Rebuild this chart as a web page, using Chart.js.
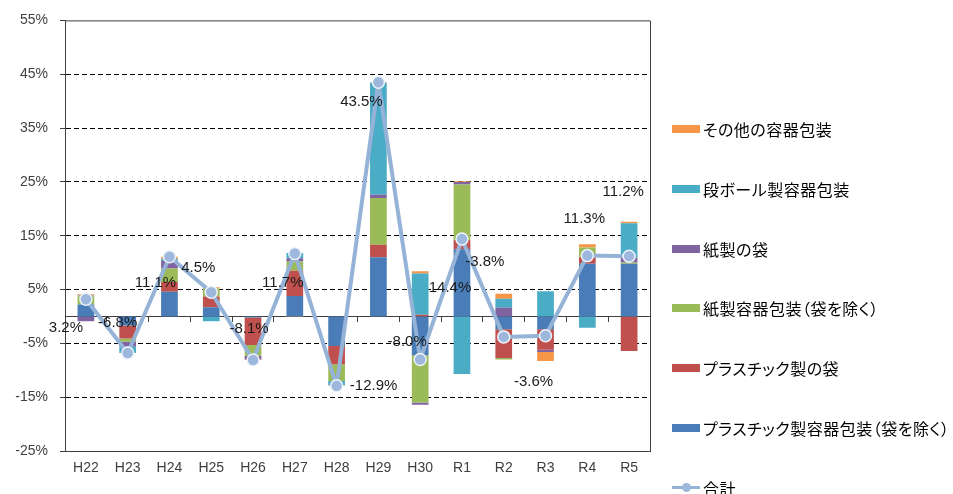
<!DOCTYPE html>
<html>
<head>
<meta charset="utf-8">
<script src="https://cdn.jsdelivr.net/npm/chart.js@4/dist/chart.umd.min.js"></script>
<style>
  body { margin: 0; background: #fff; }
  #wrap { position: relative; width: 953px; height: 494px; }
  #legend { position: absolute; left: 672px; top: 119px; font-family: "Noto Sans CJK JP", sans-serif; font-size: 16px; color: #000; font-feature-settings: "palt"; letter-spacing: 0.5px; }
  .item { display: flex; align-items: center; height: 20px; margin-bottom: 39.8px; white-space: nowrap; }
  .box { display: inline-block; width: 28px; height: 8px; margin-right: 3px; }
  .mk { position: relative; display: inline-block; width: 28px; height: 12px; margin-right: 3px; }
  .mk i { position: absolute; left: 0; top: 4.5px; width: 28px; height: 3px; }
  .mk b { position: absolute; left: 9.5px; top: 1.5px; width: 9px; height: 9px; border-radius: 50%; }
</style>
</head>
<body>
<div id="wrap">
  <canvas id="chart" width="953" height="494"></canvas>
  <div id="legend"></div>
</div>
<script>
// 前年度比（%）
const years = ['H22', 'H23', 'H24', 'H25', 'H26', 'H27', 'H28', 'H29', 'H30', 'R1', 'R2', 'R3', 'R4', 'R5'];
const plasticContainers = [2.2, -1.7, 4.6, 1.7, -0.2, 3.8, -5.5, 11.0, -7.2, 12.5, -2.4, -2.4, 9.8, 9.8];
const plasticBags = [0, -2.4, 1.8, 2.0, -5.1, 4.7, -3.4, 2.3, 0.3, 1.7, -5.3, -3.8, 1.2, -6.4];
const paperContainers = [1.5, -0.6, 2.5, 1.5, -2.0, 1.7, -3.1, 8.7, -8.8, 10.3, -0.3, 0, 1.8, 0.2];
const paperBags = [-0.9, -0.9, 1.5, 0, -0.7, 0.6, 0, 0.6, -0.4, 0.5, 1.6, -0.4, 0, 0.9];
const cardboard = [0.2, -1.2, 0.3, -0.9, 0, 1.0, -0.8, 20.8, 7.7, -10.7, 1.7, 4.7, -2.1, 6.4];
const others = [0.2, 0, 0.4, 0.2, -0.1, -0.1, -0.1, 0.1, 0.4, 0.1, 0.9, -1.7, 0.6, 0.3];
const totals = [3.2, -6.8, 11.1, 4.5, -8.1, 11.7, -12.9, 43.5, -8.0, 14.4, -3.8, -3.6, 11.3, 11.2];
const yTicks = [-25, -15, -5, 5, 15, 25, 35, 45, 55];

// where Excel left each total label, relative to its point
const labelOffsets = [[-20, 29], [-10, -30], [-14, 26], [-13, -24], [-4, -31], [-12, 29], [37, 0],
  [-17, 20], [-13, -18], [-12, 49], [-19, -75], [-12, 46], [-3, -37], [-6, -64]];

const axisColor = '#404040';
const tickFont = { family: 'Liberation Sans, Arial, sans-serif', size: 14 };

const frame = {
  id: 'frame',
  beforeDatasetsDraw(chart) {
    const { ctx, chartArea: a } = chart;
    ctx.save();
    ctx.strokeStyle = axisColor;
    ctx.lineWidth = 1;
    ctx.beginPath();
    ctx.moveTo(a.left, a.top + 0.5);
    ctx.lineTo(a.right + 0.5, a.top + 0.5);
    ctx.lineTo(a.right + 0.5, a.bottom);
    ctx.stroke();
    ctx.restore();
  }
};

const totalLabels = {
  id: 'totalLabels',
  afterDatasetsDraw(chart) {
    const { ctx } = chart;
    const meta = chart.getDatasetMeta(6);
    ctx.save();
    ctx.font = '15px "Liberation Sans", Arial, sans-serif';
    ctx.fillStyle = '#1a1a1a';
    ctx.textAlign = 'center';
    ctx.textBaseline = 'middle';
    meta.data.forEach((pt, i) => {
      const [dx, dy] = labelOffsets[i];
      ctx.fillText(totals[i].toFixed(1) + '%', pt.x + dx, pt.y + dy);
    });
    ctx.restore();
  }
};

const bar = (label, data, color) => ({ label, data, backgroundColor: color, borderWidth: 0, order: 1 });

const chart = new Chart(document.getElementById('chart'), {
  type: 'bar',
  data: {
    labels: years,
    datasets: [
      bar('プラスチック製容器包装（袋を除く）', plasticContainers, '#4A7DB8'),
      bar('プラスチック製の袋', plasticBags, '#C0504D'),
      bar('紙製容器包装（袋を除く）', paperContainers, '#9BBB59'),
      bar('紙製の袋', paperBags, '#8064A2'),
      bar('段ボール製容器包装', cardboard, '#4BACC6'),
      bar('その他の容器包装', others, '#F79646'),
      {
        type: 'line',
        label: '合計',
        data: totals,
        stack: 'total',
        order: 0,
        borderColor: '#95B3D7',
        borderWidth: 4,
        borderJoinStyle: 'round',
        borderCapStyle: 'round',
        tension: 0,
        fill: false,
        pointRadius: 6,
        pointBackgroundColor: '#9DB8DC',
        pointBorderColor: '#EEF3FA',
        pointBorderWidth: 1.5
      }
    ]
  },
  options: {
    responsive: false,
    animation: false,
    layout: { padding: { top: 17, right: 303, bottom: 0, left: 0 } },
    datasets: { bar: { barPercentage: 0.4, categoryPercentage: 1 } },
    plugins: { legend: { display: false }, tooltip: { enabled: false } },
    scales: {
      x: {
        stacked: true,
        grid: { display: false, drawTicks: false },
        border: { color: axisColor },
        ticks: { font: tickFont, color: axisColor, padding: 9 },
        afterFit: s => { s.height = 43; }
      },
      xz: {
        type: 'category',
        position: { y: 0 },
        grid: { drawOnChartArea: false, tickLength: 5, color: axisColor, offset: true },
        border: { color: axisColor },
        ticks: { display: false },
        afterFit: s => { s.height = 0; }
      },
      y: {
        stacked: true,
        min: -25,
        max: 55,
        afterBuildTicks: s => { s.ticks = yTicks.map(v => ({ value: v })); },
        grid: {
          color: c => (c.tick && (c.tick.value === 55 || c.tick.value === -25)) ? 'rgba(0,0,0,0)' : '#000',
          tickColor: axisColor,
          tickLength: 5
        },
        border: { color: axisColor, dash: [5, 3] },
        ticks: { font: tickFont, color: axisColor, padding: 12, callback: v => v + '%' },
        afterFit: s => { s.width = 65; }
      }
    }
  },
  plugins: [frame, totalLabels]
});

// 凡例（Excelと同じく積み上げの上から順、合計は最後）
const legendOrder = [5, 4, 3, 2, 1, 0, 6];
const legendEl = document.getElementById('legend');
legendOrder.forEach(i => {
  const ds = chart.data.datasets[i];
  const item = document.createElement('div');
  item.className = 'item';
  if (ds.type === 'line') {
    item.innerHTML = '<span class="mk"><i style="background:' + ds.borderColor + '"></i><b style="background:' + ds.pointBackgroundColor + '"></b></span>';
  } else {
    item.innerHTML = '<span class="box" style="background:' + ds.backgroundColor + '"></span>';
  }
  const text = document.createElement('span');
  text.textContent = ds.label;
  item.appendChild(text);
  legendEl.appendChild(item);
});
</script>
</body>
</html>
